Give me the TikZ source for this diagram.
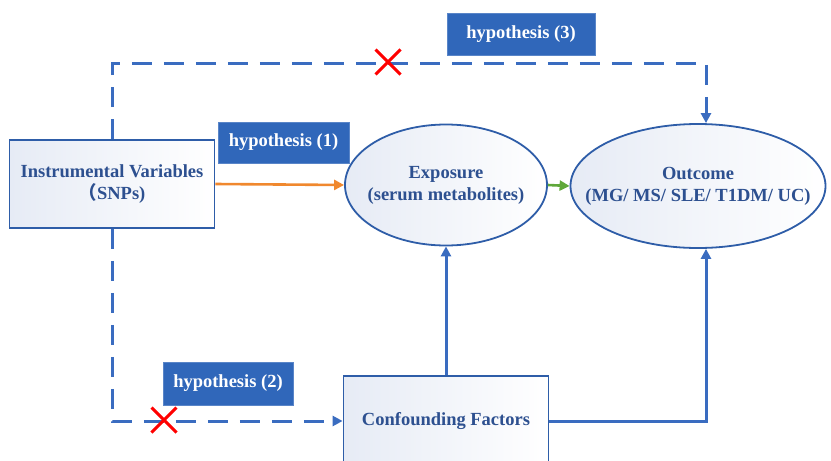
\documentclass[tikz,border=0pt]{standalone}
\usepackage{fontspec}
\setmainfont{Liberation Serif}
\newfontfamily\cjk{Noto Sans CJK SC}
\usetikzlibrary{arrows.meta,shapes.geometric,shapes.misc}
\definecolor{lineblue}{HTML}{3A6CC0}
\definecolor{edgeblue}{HTML}{2E5DA8}
\definecolor{textblue}{HTML}{2D5090}
\definecolor{hypfill}{HTML}{3067BA}
\definecolor{paleblue}{HTML}{E6EBF5}
\definecolor{arrorange}{HTML}{F0882E}
\definecolor{arrgreen}{HTML}{5FA83A}
\tikzset{
  bigtext/.style={font=\bfseries\fontsize{18.5}{22}\selectfont, text=textblue, align=center},
  factorbox/.style={bigtext, draw=edgeblue, line width=1.8pt, left color=paleblue, right color=white, inner sep=0pt},
  factoroval/.style={ellipse, draw=edgeblue, line width=1.8pt, left color=paleblue, right color=white, inner sep=0pt},
  ovaltext/.style={bigtext, inner sep=0pt},
  hyptag/.style={font=\bfseries\fontsize{18.5}{22}\selectfont, text=white, fill=hypfill, draw=hypfill!80!white, line width=0.6pt, inner sep=0pt},
  redcross/.style={cross out, draw=red, line width=3pt, minimum size=22pt, inner sep=0pt},
  tip/.style={-{Triangle[length=10pt,width=10pt]}},
  dashlink/.style={tip, draw=lineblue, line width=3pt, dash pattern=on 20pt off 12pt},
  solidlink/.style={tip, draw=lineblue, line width=3pt}
}
\begin{document}
\begin{tikzpicture}[x=1pt, y=-1pt]
  \useasboundingbox (0,0) rectangle (831,461);
  \node[factorbox, minimum width=205pt, minimum height=88pt] (iv) at (112,184) {Instrumental Variables\\{\cjk\bfseries （}SNPs)};
  \node[factoroval, minimum width=202pt, minimum height=121pt] (expo) at (446,185) {};
  \node[ovaltext] (expotext) at (expo.center) {Exposure\\(serum metabolites)};
  \node[factoroval, minimum width=255pt, minimum height=124pt] (outc) at (698,186) {};
  \node[ovaltext] (outctext) at (outc.center) {Outcome\\(MG/ MS/ SLE/ T1DM/ UC)};
  \node[factorbox, minimum width=205pt, minimum height=90pt] (conf) at (446,421) {Confounding Factors};
  \node[hyptag, minimum width=131pt, minimum height=41pt] (hyp1) at (283.5,142.5) {hypothesis (1)};
  \node[hyptag, minimum width=130pt, minimum height=43pt] (hyp2) at (228,383.5) {hypothesis (2)};
  \node[hyptag, minimum width=148pt, minimum height=42pt] (hyp3) at (521,34) {hypothesis (3)};
  \coordinate (topbend) at (112,63);
  \coordinate (botbend) at (112,421);
  \coordinate (outtop) at ([xshift=8pt]outc.north);
  \coordinate (outbot) at ([xshift=8pt]outc.south);
  \draw[dashlink] (iv.north) -- (topbend) -| (outtop);
  \draw[dashlink] (iv.south) -- (botbend) -- (conf.west);
  \draw[tip, draw=arrorange, fill=arrorange, line width=2.6pt] (iv.east) -- (expo.west);
  \draw[tip, draw=arrgreen, fill=arrgreen, line width=2.6pt] (expo.east) -- (outc.west);
  \draw[solidlink] (conf.north) -- (expo.south);
  \draw[solidlink] (conf.east) -| (outbot);
  \node[redcross] (cross3) at (388,62) {};
  \node[redcross] (cross2) at (164,420) {};
\end{tikzpicture}
\end{document}
